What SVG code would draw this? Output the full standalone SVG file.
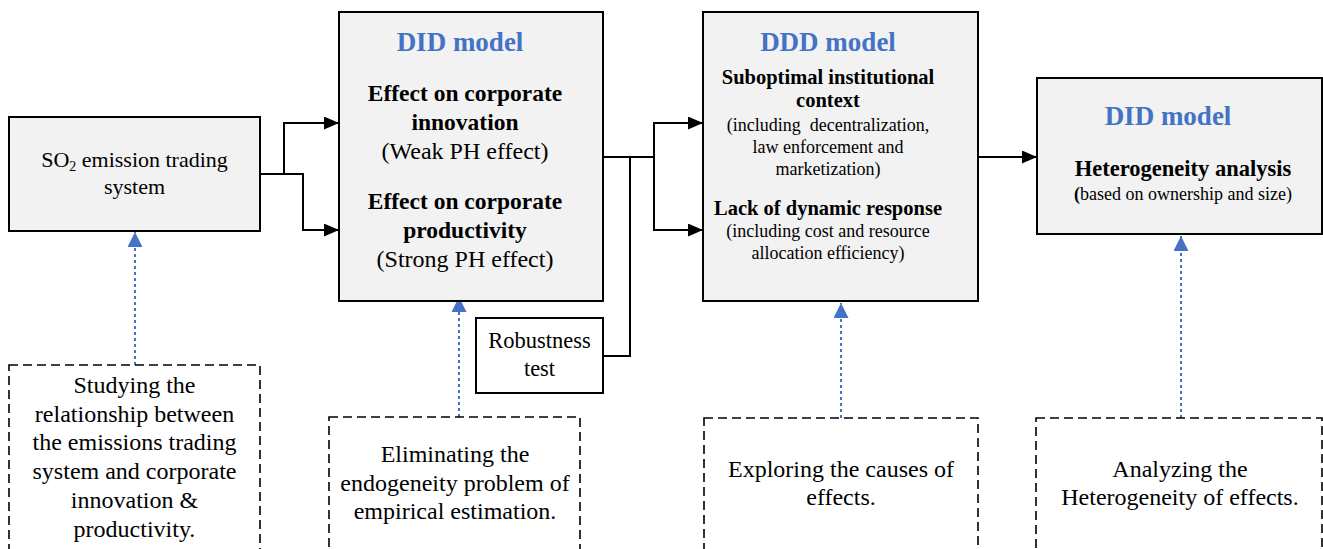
<svg xmlns="http://www.w3.org/2000/svg" width="1323" height="549" viewBox="0 0 1323 549">
<defs>
<style>
text{font-family:"Liberation Serif","Times New Roman",serif;fill:#000;text-anchor:middle}
.box{fill:#F2F2F2;stroke:#000;stroke-width:2}
.wbox{fill:#fff;stroke:#000;stroke-width:2}
.dash{fill:none;stroke:#000;stroke-width:1.6;stroke-dasharray:9 5}
.title{font-size:27px;font-weight:bold;fill:#4472C4}
.b{font-weight:bold}
.conn{fill:none;stroke:#000;stroke-width:2}
.dot{fill:none;stroke:#4472C4;stroke-width:2;stroke-dasharray:3 3}
</style>
<marker id="ah" markerUnits="userSpaceOnUse" markerWidth="16" markerHeight="14" refX="15" refY="6.5" orient="auto">
<path d="M0,0 L15,6.5 L0,13 z" fill="#000"/>
</marker>
<marker id="bh" markerUnits="userSpaceOnUse" markerWidth="16" markerHeight="16" refX="15" refY="7.5" orient="auto">
<path d="M0,0 L15,7.5 L0,15 z" fill="#4472C4"/>
</marker>
</defs>
<rect width="1323" height="549" fill="#fff"/>

<g id="connectors">
<path class="conn" d="M260,174 H303 V230 H339" marker-end="url(#ah)"/>
<path class="conn" d="M284,174 V123 H339" marker-end="url(#ah)"/>
<path class="conn" d="M603,157 H654 V123 H703" marker-end="url(#ah)"/>
<path class="conn" d="M654,157 V230 H703" marker-end="url(#ah)"/>
<path class="conn" d="M603,356 H630 V157"/>
<path class="conn" d="M978,157 H1037" marker-end="url(#ah)"/>
<path class="dot" d="M135,365 V232" marker-end="url(#bh)"/>
<path class="dot" d="M459,417 V297" marker-end="url(#bh)"/>
<path class="dot" d="M841,418 V303" marker-end="url(#bh)"/>
<path class="dot" d="M1181,418 V236" marker-end="url(#bh)"/>
</g>

<g id="so2">
<rect class="box" x="9" y="117" width="251" height="114"/>
<text x="134.5" y="167" font-size="22">SO<tspan font-size="14" dy="4">2</tspan><tspan dy="-4"> emission trading</tspan></text>
<text x="134.5" y="194" font-size="22">system</text>
</g>

<g id="did1">
<rect class="box" x="339" y="12" width="264" height="289"/>
<text class="title" x="460" y="51">DID model</text>
<text class="b" x="465" y="101" font-size="23.5">Effect on corporate</text>
<text class="b" x="465" y="130" font-size="23.5">innovation</text>
<text x="465" y="159" font-size="24">(Weak PH effect)</text>
<text class="b" x="465" y="209" font-size="23.5">Effect on corporate</text>
<text class="b" x="465" y="238" font-size="23.5">productivity</text>
<text x="465" y="267" font-size="24">(Strong PH effect)</text>
</g>

<g id="ddd">
<rect class="box" x="703" y="12" width="275" height="289"/>
<text class="title" x="828" y="51">DDD model</text>
<text class="b" x="828" y="84" font-size="20.5">Suboptimal institutional</text>
<text class="b" x="828" y="107" font-size="20.5">context</text>
<text x="828" y="131" font-size="18" xml:space="preserve">(including  decentralization,</text>
<text x="828" y="153" font-size="18">law enforcement and</text>
<text x="828" y="175" font-size="18">marketization)</text>
<text class="b" x="828" y="215" font-size="20.5">Lack of dynamic response</text>
<text x="828" y="237" font-size="18">(including cost and resource</text>
<text x="828" y="259" font-size="18">allocation efficiency)</text>
</g>

<g id="did2">
<rect class="box" x="1037" y="78" width="285" height="156"/>
<text class="title" x="1168" y="125">DID model</text>
<text class="b" x="1183" y="176" font-size="22.5">Heterogeneity analysis</text>
<text x="1183" y="200" font-size="18"><tspan font-weight="bold">(</tspan>based on ownership and size)</text>
</g>

<g id="robust">
<rect class="wbox" x="476" y="318" width="127" height="75"/>
<text x="539.5" y="348" font-size="22.5">Robustness</text>
<text x="539.5" y="376" font-size="22.5">test</text>
</g>

<g id="note1">
<rect class="dash" x="9" y="365" width="251" height="200"/>
<text x="134.5" y="393" font-size="24">Studying the</text>
<text x="134.5" y="422" font-size="24">relationship between</text>
<text x="134.5" y="450" font-size="24">the emissions trading</text>
<text x="134.5" y="479" font-size="24">system and corporate</text>
<text x="134.5" y="508" font-size="24">innovation &amp;</text>
<text x="134.5" y="537" font-size="24">productivity.</text>
</g>

<g id="note2">
<rect class="dash" x="329" y="417" width="251" height="150"/>
<text x="455" y="462" font-size="24">Eliminating the</text>
<text x="455" y="491" font-size="24">endogeneity problem of</text>
<text x="455" y="519" font-size="24">empirical estimation.</text>
</g>

<g id="note3">
<rect class="dash" x="704" y="418" width="274" height="150"/>
<text x="841" y="477" font-size="24">Exploring the causes of</text>
<text x="841" y="505" font-size="24">effects.</text>
</g>

<g id="note4">
<rect class="dash" x="1036" y="418" width="286" height="150"/>
<text x="1180" y="477" font-size="24">Analyzing the</text>
<text x="1180" y="505" font-size="24">Heterogeneity of effects.</text>
</g>
</svg>
